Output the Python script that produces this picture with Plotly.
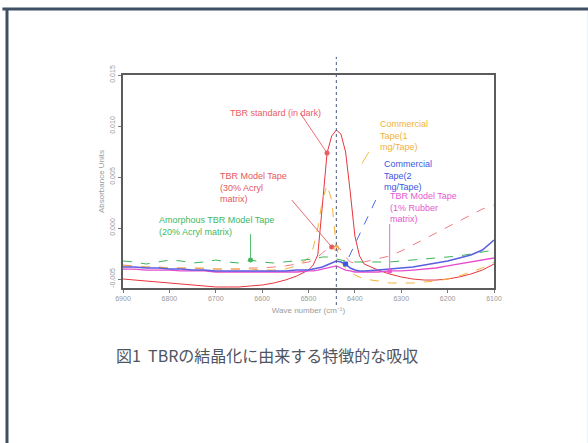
import plotly.graph_objects as go

# Wave numbers (cm^-1), denser sampling around the crystalline TBR band
wavenumber = [6900, 6875, 6850, 6825, 6800, 6775, 6750, 6725, 6700, 6675,
              6650, 6625, 6600, 6575, 6550, 6525, 6500, 6490, 6480, 6470,
              6460, 6450, 6440, 6430, 6420, 6410, 6400, 6390, 6380, 6350,
              6325, 6300, 6275, 6250, 6225, 6200, 6175, 6150, 6125, 6100]

# Absorbance spectra (absorbance units)
tbr_standard = [-0.00500, -0.00510, -0.00519, -0.00529, -0.00539, -0.00549, -0.00559, -0.00568, -0.00578, -0.00578,
                -0.00578, -0.00568, -0.00559, -0.00539, -0.00510, -0.00470, -0.00412, -0.00363, -0.00265, 0.00225,
                0.00735, 0.00902, 0.00960, 0.00921, 0.00745, 0.00353, -0.00078, -0.00274, -0.00353, -0.00412,
                -0.00451, -0.00480, -0.00500, -0.00510, -0.00510, -0.00500, -0.00480, -0.00451, -0.00412, -0.00353]
model_30_acryl = [-0.00363, -0.00372, -0.00382, -0.00382, -0.00392, -0.00392, -0.00392, -0.00402, -0.00402, -0.00402,
                  -0.00402, -0.00392, -0.00392, -0.00382, -0.00372, -0.00353, -0.00333, -0.00314, -0.00284, -0.00245,
                  -0.00206, -0.00186, -0.00176, -0.00216, -0.00284, -0.00333, -0.00343, -0.00343, -0.00333, -0.00304,
                  -0.00274, -0.00225, -0.00167, -0.00108, -0.00049, 0.00010, 0.00069, 0.00127, 0.00186, 0.00225]
commercial_1mg = [-0.00372, -0.00372, -0.00382, -0.00382, -0.00392, -0.00392, -0.00392, -0.00392, -0.00402, -0.00402,
                  -0.00402, -0.00402, -0.00412, -0.00412, -0.00402, -0.00372, -0.00294, -0.00196, 0.00000, 0.00274,
                  0.00421, 0.00274, -0.00196, -0.00333, -0.00392, -0.00431, -0.00461, -0.00480, -0.00500, -0.00519,
                  -0.00539, -0.00539, -0.00539, -0.00529, -0.00519, -0.00500, -0.00470, -0.00431, -0.00392, -0.00333]
commercial_2mg = [-0.00382, -0.00382, -0.00392, -0.00392, -0.00402, -0.00402, -0.00412, -0.00412, -0.00421, -0.00421,
                  -0.00421, -0.00421, -0.00421, -0.00421, -0.00421, -0.00412, -0.00412, -0.00402, -0.00392, -0.00382,
                  -0.00363, -0.00343, -0.00323, -0.00333, -0.00353, -0.00392, -0.00412, -0.00421, -0.00421, -0.00412,
                  -0.00402, -0.00392, -0.00382, -0.00363, -0.00343, -0.00323, -0.00294, -0.00265, -0.00216, -0.00118]
amorphous_20_acryl = [-0.00323, -0.00333, -0.00353, -0.00333, -0.00314, -0.00323, -0.00343, -0.00333, -0.00314, -0.00333,
                      -0.00343, -0.00314, -0.00333, -0.00343, -0.00333, -0.00323, -0.00314, -0.00304, -0.00294, -0.00284,
                      -0.00284, -0.00294, -0.00304, -0.00314, -0.00323, -0.00333, -0.00333, -0.00333, -0.00333, -0.00333,
                      -0.00333, -0.00323, -0.00314, -0.00304, -0.00294, -0.00284, -0.00274, -0.00255, -0.00235, -0.00216]
model_1_rubber = [-0.00402, -0.00402, -0.00412, -0.00412, -0.00412, -0.00421, -0.00421, -0.00421, -0.00431, -0.00431,
                  -0.00431, -0.00431, -0.00431, -0.00431, -0.00431, -0.00431, -0.00421, -0.00421, -0.00412, -0.00402,
                  -0.00392, -0.00382, -0.00372, -0.00392, -0.00412, -0.00421, -0.00431, -0.00431, -0.00431, -0.00431,
                  -0.00421, -0.00421, -0.00412, -0.00402, -0.00392, -0.00372, -0.00353, -0.00333, -0.00314, -0.00294]

# Axis ticks
x_ticks = [6900, 6800, 6700, 6600, 6500, 6400, 6300, 6200, 6100]
y_ticks = [-0.005, 0.000, 0.005, 0.010, 0.015]
y_tick_text = ["-0.005", "0.000", "0.005", "0.010", "0.015"]

# Crystalline band position
band_wn = 6440

series = [
    dict(y=tbr_standard, color="#e8363e", dash="solid", width=1.0),
    dict(y=model_30_acryl, color="#f27a86", dash="dash", width=1.0),
    dict(y=commercial_1mg, color="#f2b23a", dash="dash", width=1.0),
    dict(y=amorphous_20_acryl, color="#3cb45a", dash="dash", width=1.0),
    dict(y=model_1_rubber, color="#e64ccc", dash="solid", width=1.3),
    dict(y=commercial_2mg, color="#5a5ee0", dash="solid", width=1.5),
]

# Labelled spectra: (label, series, marked wave number, colour, symbol, anchor x/y in paper, pointer start, dash)
labels = [
    ("TBR standard (in dark)", tbr_standard, 6460, "#ec5c64", "circle", 0.283, 0.822, (6518, 0.01127), "solid"),
    ("TBR Model Tape<br>(30% Acryl<br>matrix)", model_30_acryl, 6450, "#e45860", "circle", 0.256, 0.474, (6536, 0.00274), "solid"),
    ("Amorphous TBR Model Tape<br>(20% Acryl matrix)", amorphous_20_acryl, 6625, "#42b860", "circle", 0.0916, 0.291, (6625, -0.00059), "solid"),
    ("Commercial<br>Tape(2<br>mg/Tape)", commercial_2mg, 6420, "#3a58e2", "square", 0.698, 0.526, (6355, 0.00274), "dash"),
    ("TBR Model Tape<br>(1% Rubber<br>matrix)", model_1_rubber, 6325, "#e858d0", "circle", 0.714, 0.376, (6325, 0.00039), "solid"),
]

label_font = "Liberation Sans, Arial"

fig = go.Figure()

for s in series:
    fig.add_trace(go.Scatter(
        x=wavenumber, y=s["y"], mode="lines",
        line=dict(color=s["color"], dash=s["dash"], width=s["width"]),
        hoverinfo="skip",
    ))

annotations = []
for text, ys, wn, color, symbol, ax_p, ay_p, start, dash in labels:
    idx = wavenumber.index(wn)
    yv = ys[idx]
    # pointer from label to the marked point
    fig.add_trace(go.Scatter(
        x=[start[0], wn], y=[start[1], yv], mode="lines",
        line=dict(color=color, width=0.9, dash=dash), hoverinfo="skip",
    ))
    fig.add_trace(go.Scatter(
        x=[wn], y=[yv], mode="markers",
        marker=dict(color=color, size=5, symbol=symbol), hoverinfo="skip",
    ))
    annotations.append(dict(
        text=text, xref="paper", yref="paper", x=ax_p, y=ay_p,
        xanchor="left", yanchor="middle", showarrow=False, align="left",
        font=dict(family=label_font, size=9, color=color),
    ))

# Commercial tape (1 mg) label and its marker on the band
idx1 = wavenumber.index(band_wn)
fig.add_trace(go.Scatter(
    x=[band_wn], y=[commercial_1mg[idx1]], mode="markers",
    marker=dict(color="rgba(0,0,0,0)", size=5, symbol="circle",
                line=dict(color="#f09a40", width=1)), hoverinfo="skip",
))
fig.add_trace(go.Scatter(
    x=[6370, 6385], y=[0.00745, 0.00630], mode="lines",
    line=dict(color="#f2b23a", width=0.9), hoverinfo="skip",
))
annotations.append(dict(
    text="Commercial<br>Tape(1<br>mg/Tape)", xref="paper", yref="paper",
    x=0.687, y=0.714, xanchor="left", yanchor="middle", showarrow=False, align="left",
    font=dict(family=label_font, size=9, color="#f2b23a"),
))

# Caption
annotations.append(dict(
    text="図1  TBRの結晶化に由来する特徴的な吸収", xref="paper", yref="paper",
    x=0.388, y=-0.315, xanchor="center", yanchor="middle", showarrow=False,
    font=dict(family="Noto Sans CJK JP", size=16, color="#4f5562"),
))

shapes = [
    # band marker line
    dict(type="line", xref="x", yref="paper", x0=band_wn, x1=band_wn, y0=-0.08, y1=1.085,
         line=dict(color="#4a5680", width=1, dash="dot")),
    # page frame
    dict(type="line", xref="paper", yref="paper", x0=-0.325, x1=1.27, y0=1.31, y1=1.31,
         line=dict(color="#3f5064", width=3)),
    dict(type="line", xref="paper", yref="paper", x0=-0.3127, x1=-0.3127, y0=1.315, y1=-0.75,
         line=dict(color="#3f5064", width=3)),
    dict(type="line", xref="paper", yref="paper", x0=1.2533, x1=1.2533, y0=1.30, y1=-0.75,
         line=dict(color="#dfe5ec", width=1)),
]

axis_font = dict(family=label_font, size=7, color="#9a9a9a")

fig.update_layout(
    width=588, height=443,
    margin=dict(l=123, r=94, t=75, b=155, autoexpand=False),
    paper_bgcolor="white", plot_bgcolor="white",
    showlegend=False,
    annotations=annotations,
    shapes=shapes,
    xaxis=dict(
        range=[6900, 6100], tickvals=x_ticks, ticktext=[str(t) for t in x_ticks],
        showgrid=False, zeroline=False, showline=True, mirror=True,
        linecolor="#5c5c5c", linewidth=1.5, ticks="outside", ticklen=3, tickcolor="#777",
        tickfont=axis_font,
        title=dict(text="Wave number (cm⁻¹)", font=dict(family=label_font, size=8, color="#9a9a9a"), standoff=6),
    ),
    yaxis=dict(
        range=[-0.00588, 0.0150], tickvals=y_ticks, ticktext=y_tick_text, tickangle=-90,
        showgrid=False, zeroline=False, showline=True, mirror=True,
        linecolor="#5c5c5c", linewidth=1.5, ticks="outside", ticklen=3, tickcolor="#777",
        tickfont=axis_font,
        title=dict(text="Absorbance Units", font=dict(family=label_font, size=8, color="#9a9a9a"), standoff=4),
    ),
)

fig.write_html("out.html")
